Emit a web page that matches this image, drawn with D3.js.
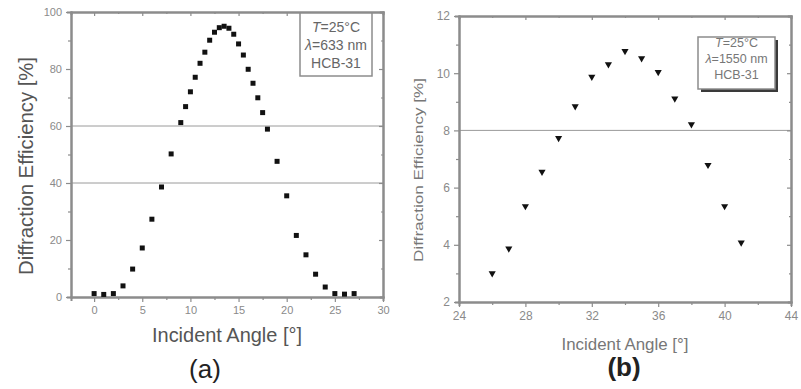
<!DOCTYPE html>
<html>
<head>
<meta charset="utf-8">
<script src="https://cdn.jsdelivr.net/npm/d3@7"></script>
<style>
  body { margin: 0; background: #fff; }
  svg { display: block; font-family: "Liberation Sans", Arial, sans-serif; }
</style>
</head>
<body>
<svg id="chart" width="801" height="389"></svg>
<script>
// panel (a): 633 nm
const angleA = [0, 1, 2, 3, 4, 5, 6, 7, 8, 9, 9.5, 10, 10.5, 11, 11.5, 12, 12.5, 13, 13.5, 14,
  14.5, 15, 15.5, 16, 16.5, 17, 17.5, 18, 19, 20, 21, 22, 23, 24, 25, 26, 27];
const effA = [1.2, 0.9, 1.2, 3.9, 9.8, 17.2, 27.3, 38.6, 50.2, 61.2, 66.8, 72.0, 77.1, 82.0, 85.9, 90.1,
  92.9, 94.5, 95.0, 94.3, 92.2, 88.8, 84.9, 79.9, 75.0, 69.9, 64.7, 58.9, 47.6, 35.5, 21.6, 14.8, 8.0,
  3.5, 1.2, 1.0, 1.2];
const xTicksA = [0, 5, 10, 15, 20, 25, 30];
const yTicksA = [0, 20, 40, 60, 80, 100];
const gridA = [40, 60];
const legendA = ["T=25°C", "λ=633 nm", "HCB-31"];

// panel (b): 1550 nm
const angleB = [26, 27, 28, 29, 30, 31, 32, 33, 34, 35, 36, 37, 38, 39, 40, 41];
const effB = [3.0, 3.87, 5.35, 6.55, 7.73, 8.84, 9.87, 10.31, 10.77, 10.52, 10.04, 9.11, 8.21, 6.79, 5.35, 4.08];
const xTicksB = [24, 28, 32, 36, 40, 44];
const yTicksB = [2, 4, 6, 8, 10, 12];
const gridB = [8];
const legendB = ["T=25°C", "λ=1550 nm", "HCB-31"];

const svg = d3.select("#chart");
svg.append("rect").attr("width", 801).attr("height", 389).attr("fill", "#fff");

function drawPanel(p) {
  const x = d3.scaleLinear().domain(p.xDomain).range([p.left, p.right]);
  const y = d3.scaleLinear().domain(p.yDomain).range([p.bottom, p.top]);
  const g = svg.append("g");
  const axisColor = "#8c8c8c";

  // gridlines
  g.selectAll("line.grid").data(p.grid).enter().append("line")
    .attr("x1", p.left).attr("x2", p.right)
    .attr("y1", d => y(d)).attr("y2", d => y(d))
    .attr("stroke", "#9a9a9a").attr("stroke-width", 1);

  // axes, major + minor ticks on all four sides
  const xMinor = p.xTicks.slice(0, -1).map((d, i) => (d + p.xTicks[i + 1]) / 2);
  const yMinor = p.yTicks.slice(0, -1).map((d, i) => (d + p.yTicks[i + 1]) / 2);

  g.append("g").attr("transform", `translate(0,${p.bottom})`)
    .call(d3.axisBottom(x).tickValues(p.xTicks).tickSize(5).tickSizeOuter(0).tickPadding(4));
  g.append("g").attr("transform", `translate(${p.left},0)`)
    .call(d3.axisLeft(y).tickValues(p.yTicks).tickSize(5).tickSizeOuter(0).tickPadding(4));
  g.append("g").attr("transform", `translate(0,${p.top})`)
    .call(d3.axisBottom(x).tickValues(p.xTicks).tickSize(4).tickSizeOuter(0).tickFormat(""));
  g.append("g").attr("transform", `translate(${p.right},0)`)
    .call(d3.axisLeft(y).tickValues(p.yTicks).tickSize(4).tickSizeOuter(0).tickFormat(""));
  g.append("g").attr("transform", `translate(0,${p.bottom})`)
    .call(d3.axisBottom(x).tickValues(xMinor).tickSize(3).tickFormat(""));
  g.append("g").attr("transform", `translate(${p.left},0)`)
    .call(d3.axisLeft(y).tickValues(yMinor).tickSize(3).tickFormat(""));
  g.append("g").attr("transform", `translate(0,${p.top})`)
    .call(d3.axisBottom(x).tickValues(xMinor).tickSize(2).tickFormat(""));
  g.append("g").attr("transform", `translate(${p.right},0)`)
    .call(d3.axisLeft(y).tickValues(yMinor).tickSize(2).tickFormat(""));

  g.selectAll(".domain").attr("stroke", axisColor).attr("stroke-width", 2).attr("stroke-linecap", "square");
  g.selectAll(".tick line").attr("stroke", axisColor).attr("stroke-width", 1.2);
  g.selectAll(".tick text").attr("fill", p.tickColor).attr("font-size", p.tickSize)
    .attr("font-family", "Liberation Sans, Arial, sans-serif");

  // markers
  const sym = d3.symbol().type(p.shape).size(p.markSize);
  g.selectAll("path.pt").data(p.xs).enter().append("path")
    .attr("d", sym)
    .attr("fill", "#111")
    .attr("transform", (d, i) => `translate(${x(d)},${y(p.ys[i])})` + (p.flip ? " rotate(180)" : ""));

  // legend
  const lb = p.legendBox;
  if (p.shadow) {
    g.append("rect").attr("x", lb.x + 3).attr("y", lb.y + 3).attr("width", lb.w).attr("height", lb.h)
      .attr("fill", "#3a3a3a");
  }
  g.append("rect").attr("x", lb.x).attr("y", lb.y).attr("width", lb.w).attr("height", lb.h)
    .attr("fill", "#fff").attr("stroke", "#8c8c8c").attr("stroke-width", 1.5);
  p.legend.forEach((t, i) => {
    const txt = g.append("text").attr("x", lb.x + lb.w / 2).attr("y", p.legendY[i])
      .attr("text-anchor", "middle").attr("font-size", p.legendSize).attr("fill", p.legendColor);
    if (i < 2) {
      txt.append("tspan").attr("font-style", "italic").text(t[0]);
      txt.append("tspan").text(t.slice(1));
    } else {
      txt.text(t);
    }
  });

  // axis titles
  g.append("text").attr("x", (p.left + p.right) / 2).attr("y", p.xTitleY)
    .attr("text-anchor", "middle").attr("font-size", p.titleSize).attr("fill", p.titleColor)
    .attr("textLength", p.xTitleLen).attr("lengthAdjust", "spacingAndGlyphs")
    .text("Incident Angle [°]");
  g.append("text")
    .attr("transform", `translate(${p.yTitleX},${p.yTitleCy}) rotate(-90)`)
    .attr("text-anchor", "middle").attr("font-size", p.yTitleSize).attr("fill", p.titleColor)
    .attr("textLength", p.yTitleLen).attr("lengthAdjust", "spacingAndGlyphs")
    .text("Diffraction Efficiency [%]");
  g.append("text").attr("x", p.capX).attr("y", p.capY)
    .attr("text-anchor", "middle").attr("font-size", 26).attr("font-weight", p.capWeight)
    .attr("fill", "#222").text(p.caption);
}

drawPanel({
  xs: angleA, ys: effA, xDomain: [-2.4, 30], yDomain: [0, 100],
  left: 71, right: 383, top: 12, bottom: 297,
  xTicks: xTicksA, yTicks: yTicksA, grid: gridA,
  tickColor: "#8a8a8a", tickSize: 11,
  shape: d3.symbolSquare, markSize: 25, flip: false,
  legend: legendA, legendBox: { x: 300, y: 13, w: 72, h: 63 }, legendY: [32, 50, 68],
  legendSize: 14, legendColor: "#666", shadow: false,
  titleSize: 20, titleColor: "#555", xTitleY: 342, xTitleLen: 150,
  yTitleX: 33, yTitleCy: 166, yTitleSize: 20, yTitleLen: 218,
  caption: "(a)", capX: 205, capY: 378, capWeight: "normal"
});

drawPanel({
  xs: angleB, ys: effB, xDomain: [24, 44], yDomain: [2, 12],
  left: 459, right: 791, top: 16, bottom: 302,
  xTicks: xTicksB, yTicks: yTicksB, grid: gridB,
  tickColor: "#8a8a8a", tickSize: 12,
  shape: d3.symbolTriangle, markSize: 22, flip: true,
  legend: legendB, legendBox: { x: 698, y: 37, w: 77, h: 52 }, legendY: [47, 63, 79],
  legendSize: 12.5, legendColor: "#777", shadow: true,
  titleSize: 17, titleColor: "#777", xTitleY: 350, xTitleLen: 127,
  yTitleX: 423, yTitleCy: 170, yTitleSize: 13, yTitleLen: 184,
  caption: "(b)", capX: 624, capY: 376, capWeight: "bold"
});
</script>
</body>
</html>
